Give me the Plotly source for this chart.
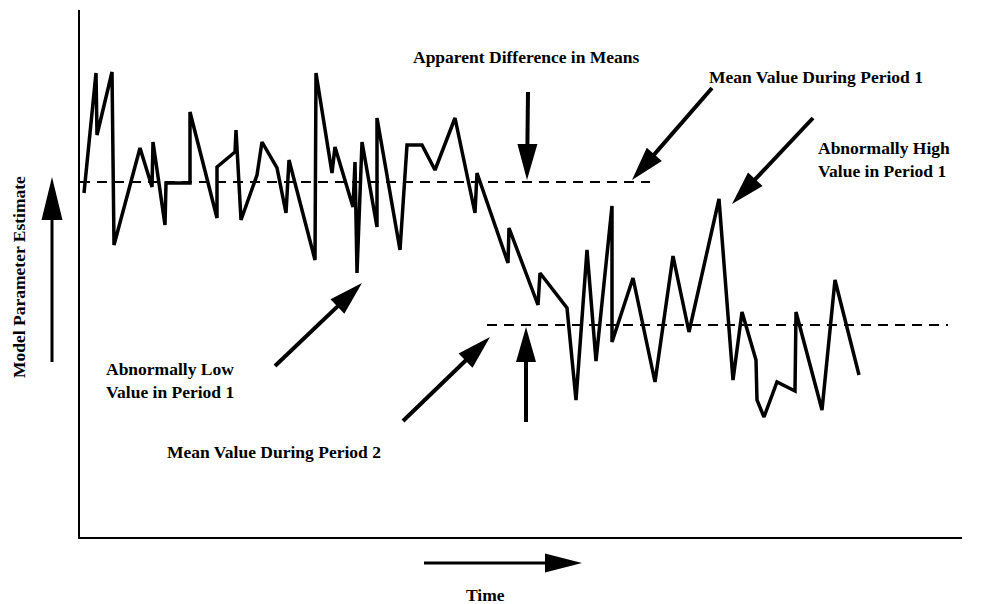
import math
import plotly.graph_objects as go

# ---- data (time units, estimate units) ----
time = [4, 16, 17, 32, 34, 60, 72, 73, 85, 86, 110, 110, 137, 137, 155, 156, 161, 177,
        182, 197, 206, 209, 235, 236, 252, 255, 273, 275, 277, 282, 297, 297, 320, 327,
        342, 355, 375, 395, 397, 428, 429, 458, 460, 487, 496, 507, 516, 532, 532, 553,
        575, 593, 609, 639, 653, 662, 676, 677, 684, 697, 715, 716, 742, 755, 779]
estimate = [344, 464, 402, 465, 292, 389, 350, 395, 312, 354, 354, 425, 319, 370, 385,
            407, 317, 362, 395, 369, 324, 377, 277, 464, 364, 390, 330, 375, 264, 395,
            310, 419, 287, 392, 392, 367, 419, 324, 364, 274, 309, 232, 264, 229, 137,
            287, 176, 331, 195, 259, 155, 281, 205, 338, 157, 225, 177, 137, 120, 155,
            146, 225, 127, 257, 162]

mean1_value = 355
mean1_span = [0, 570]
mean2_value = 212
mean2_span = [407, 868]

x_range = [0, 882]
y_range = [0, 527]

# ---- layout geometry (page is offset by the 8px body margin) ----
OFF = 8
W, H = 973, 596
ML, MR, MT, MB = 72, 19, 2, 67
PW, PH = W - ML - MR, H - MT - MB


def px(x):
    """page x -> paper"""
    return (x - OFF - ML) / PW


def py(y):
    """page y -> paper"""
    return (H - MB - (y - OFF)) / PH


FONT = dict(family="Liberation Serif, Times New Roman, serif", size=17.5,
            color="black", weight="bold")

fig = go.Figure()
fig.add_trace(go.Scatter(x=mean1_span, y=[mean1_value] * 2, mode="lines",
                         line=dict(color="black", width=2, dash="10px,7px"),
                         hoverinfo="skip"))
fig.add_trace(go.Scatter(x=mean2_span, y=[mean2_value] * 2, mode="lines",
                         line=dict(color="black", width=2, dash="10px,7px"),
                         hoverinfo="skip"))
fig.add_trace(go.Scatter(x=time, y=estimate, mode="lines",
                         line=dict(color="black", width=3.5)))

shapes = []


def arrow(tail, tip, head_len=34, head_w=20, width=4):
    dx, dy = tip[0] - tail[0], tip[1] - tail[1]
    L = math.hypot(dx, dy)
    ux, uy = dx / L, dy / L
    bx, by = tip[0] - ux * head_len, tip[1] - uy * head_len
    nx, ny = -uy, ux
    shapes.append(dict(type="line", xref="paper", yref="paper",
                       x0=px(tail[0]), y0=py(tail[1]),
                       x1=px(bx + ux * 2), y1=py(by + uy * 2),
                       line=dict(color="black", width=width)))
    p1 = (bx + nx * head_w / 2, by + ny * head_w / 2)
    p2 = (bx - nx * head_w / 2, by - ny * head_w / 2)
    path = "M {},{} L {},{} L {},{} Z".format(px(tip[0]), py(tip[1]),
                                             px(p1[0]), py(p1[1]),
                                             px(p2[0]), py(p2[1]))
    shapes.append(dict(type="path", xref="paper", yref="paper", path=path,
                       fillcolor="black", line=dict(width=0)))


arrow((528, 92), (527, 180), 36, 20)
arrow((526, 422), (526, 327), 35, 20)
arrow((712, 88), (632, 180), 34, 20)
arrow((813, 118), (732, 204), 34, 20)
arrow((275, 366), (362, 283), 34, 20)
arrow((403, 421), (490, 337), 34, 20)
arrow((424, 563), (582, 563), 37, 19, 3)
arrow((52, 362), (52, 177), 43, 21, 3)

annotations = [
    dict(text="Apparent Difference in Means", x=px(526), y=py(57),
         xanchor="center", yanchor="middle"),
    dict(text="Mean Value During Period 1", x=px(816), y=py(77),
         xanchor="center", yanchor="middle"),
    dict(text="Abnormally High<br>Value in Period 1", x=px(816), y=py(159),
         xanchor="left", yanchor="middle", align="left"),
    dict(text="Abnormally Low<br>Value in Period 1", x=px(104), y=py(380),
         xanchor="left", yanchor="middle", align="left"),
    dict(text="Mean Value During Period 2", x=px(274), y=py(452),
         xanchor="center", yanchor="middle"),
    dict(text="Time", x=px(485), y=py(595), xanchor="center", yanchor="middle"),
    dict(text="Model Parameter Estimate", x=px(19), y=py(277), textangle=-90,
         xanchor="center", yanchor="middle"),
]
for a in annotations:
    a.update(xref="paper", yref="paper", showarrow=False, font=FONT)

fig.update_layout(
    width=W, height=H,
    margin=dict(l=ML, r=MR, t=MT, b=MB),
    paper_bgcolor="white", plot_bgcolor="white",
    showlegend=False,
    shapes=shapes, annotations=annotations,
    xaxis=dict(range=x_range, showgrid=False, zeroline=False, showticklabels=False,
               ticks="", showline=True, linecolor="black", linewidth=2),
    yaxis=dict(range=y_range, showgrid=False, zeroline=False, showticklabels=False,
               ticks="", showline=True, linecolor="black", linewidth=2),
)
fig.write_html("out.html")
